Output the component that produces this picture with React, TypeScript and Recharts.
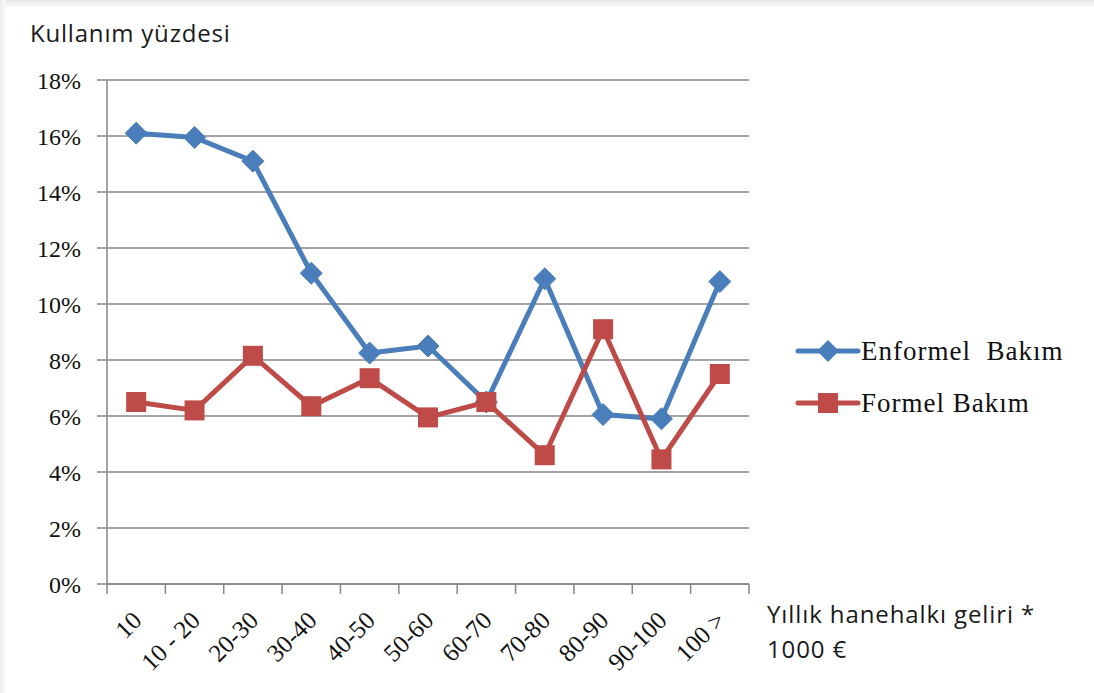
import { CartesianGrid, Line, LineChart, XAxis, YAxis } from "recharts"

const categories = ["10", "10 - 20", "20-30", "30-40", "40-50", "50-60", "60-70", "70-80", "80-90", "90-100", "100 >"]
const enformel = [16.1, 15.95, 15.1, 11.1, 8.25, 8.5, 6.5, 10.9, 6.05, 5.9, 10.8]
const formel = [6.5, 6.2, 8.15, 6.35, 7.35, 5.95, 6.5, 4.6, 9.1, 4.45, 7.5]
const yTicks = [0, 2, 4, 6, 8, 10, 12, 14, 16, 18]

const data = categories.map((name, i) => ({ name, enformel: enformel[i], formel: formel[i] }))

const BLUE = "#4a7ebb"
const RED = "#be4b48"
const AXIS = "#868686"
const SERIF = "'Liberation Serif', 'Times New Roman', serif"
const SANS = "'Open Sans', 'DejaVu Sans', sans-serif"

const PLOT_LEFT = 107
const PLOT_RIGHT = 749
const BAND = (PLOT_RIGHT - PLOT_LEFT) / categories.length

function Diamond(props: any) {
  const { cx, cy } = props
  if (cx == null || cy == null) return null
  const r = 11
  return <polygon points={`${cx},${cy - r} ${cx + r},${cy} ${cx},${cy + r} ${cx - r},${cy}`} fill={BLUE} stroke={BLUE} strokeWidth={1} />
}

function Square(props: any) {
  const { cx, cy } = props
  if (cx == null || cy == null) return null
  return <rect x={cx - 10} y={cy - 10} width={20} height={20} fill={RED} />
}

function XTick(props: any) {
  const { x, payload, index } = props
  const left = x - BAND / 2
  const ax = 584
  const tx = x + 7
  const ty = ax + 38
  return (
    <g>
      <line x1={left} y1={ax} x2={left} y2={ax + 10} stroke={AXIS} strokeWidth={1.5} />
      {index === categories.length - 1 && (
        <line x1={left + BAND} y1={ax} x2={left + BAND} y2={ax + 10} stroke={AXIS} strokeWidth={1.5} />
      )}
      <text
        x={tx}
        y={ty}
        transform={`rotate(-45 ${tx} ${ty})`}
        textAnchor="end"
        fontFamily={SERIF}
        fontSize={25}
        fill="#111"
      >
        {payload.value}
      </text>
    </g>
  )
}

const legendItems = [
  { label: "Enformel  Bakım", color: BLUE, shape: "diamond" },
  { label: "Formel Bakım", color: RED, shape: "square" },
]

export default function App() {
  return (
    <div style={{ position: "absolute", left: 0, top: 0, width: 1094, height: 693, background: "#fff", overflow: "hidden" }}>
      <div style={{ position: "absolute", left: 0, top: 0, width: 1094, height: 7, background: "linear-gradient(#e6e6e6, #fafafa)" }} />
      <div style={{ position: "absolute", left: 0, top: 0, width: 6, height: 693, background: "linear-gradient(90deg, #ececec, #fbfbfb)" }} />
      <div style={{ position: "absolute", left: 30, top: 16, fontFamily: SANS, fontSize: 24, letterSpacing: 0.8, color: "#1a1a1a" }}>
        Kullanım yüzdesi
      </div>
      <div style={{ position: "absolute", left: 767, top: 596, fontFamily: SANS, fontSize: 24, letterSpacing: 0.9, color: "#1a1a1a", lineHeight: "35px" }}>
        Yıllık hanehalkı geliri *
        <br />
        1000 €
      </div>
      <div style={{ position: "absolute", left: 795, top: 325 }}>
        {legendItems.map((it) => (
          <div key={it.label} style={{ display: "flex", alignItems: "center", height: 52 }}>
            <svg width={66} height={24}>
              <line x1={3} y1={12} x2={63} y2={12} stroke={it.color} strokeWidth={5} strokeLinecap="round" />
              {it.shape === "diamond" ? (
                <polygon points="33,1 44,12 33,23 22,12" fill={it.color} />
              ) : (
                <rect x={23} y={2} width={20} height={20} fill={it.color} />
              )}
            </svg>
            <span style={{ fontFamily: SERIF, fontSize: 27, letterSpacing: 1, color: "#111", whiteSpace: "pre" }}>{it.label}</span>
          </div>
        ))}
      </div>
      <LineChart width={1094} height={693} data={data} margin={{ top: 80, right: 345, bottom: 39, left: 27 }}>
        <CartesianGrid vertical={false} stroke={AXIS} strokeWidth={1.5} />
        <XAxis
          dataKey="name"
          stroke={AXIS}
          strokeWidth={1.5}
          tickLine={false}
          tick={<XTick />}
          interval={0}
          height={70}
          padding={{ left: BAND / 2, right: BAND / 2 }}
        />
        <YAxis
          domain={[0, 18]}
          ticks={yTicks}
          interval={0}
          width={80}
          stroke={AXIS}
          strokeWidth={1.5}
          tickSize={10}
          tickFormatter={(v) => `${v}%`}
          tick={{ fontFamily: SERIF, fontSize: 24, fill: "#111", dx: -14 }}
        />
        <Line
          type="linear"
          dataKey="enformel"
          stroke={BLUE}
          strokeWidth={5}
          dot={<Diamond />}
          activeDot={false}
          isAnimationActive={false}
        />
        <Line
          type="linear"
          dataKey="formel"
          stroke={RED}
          strokeWidth={5}
          dot={<Square />}
          activeDot={false}
          isAnimationActive={false}
        />
      </LineChart>
    </div>
  )
}
